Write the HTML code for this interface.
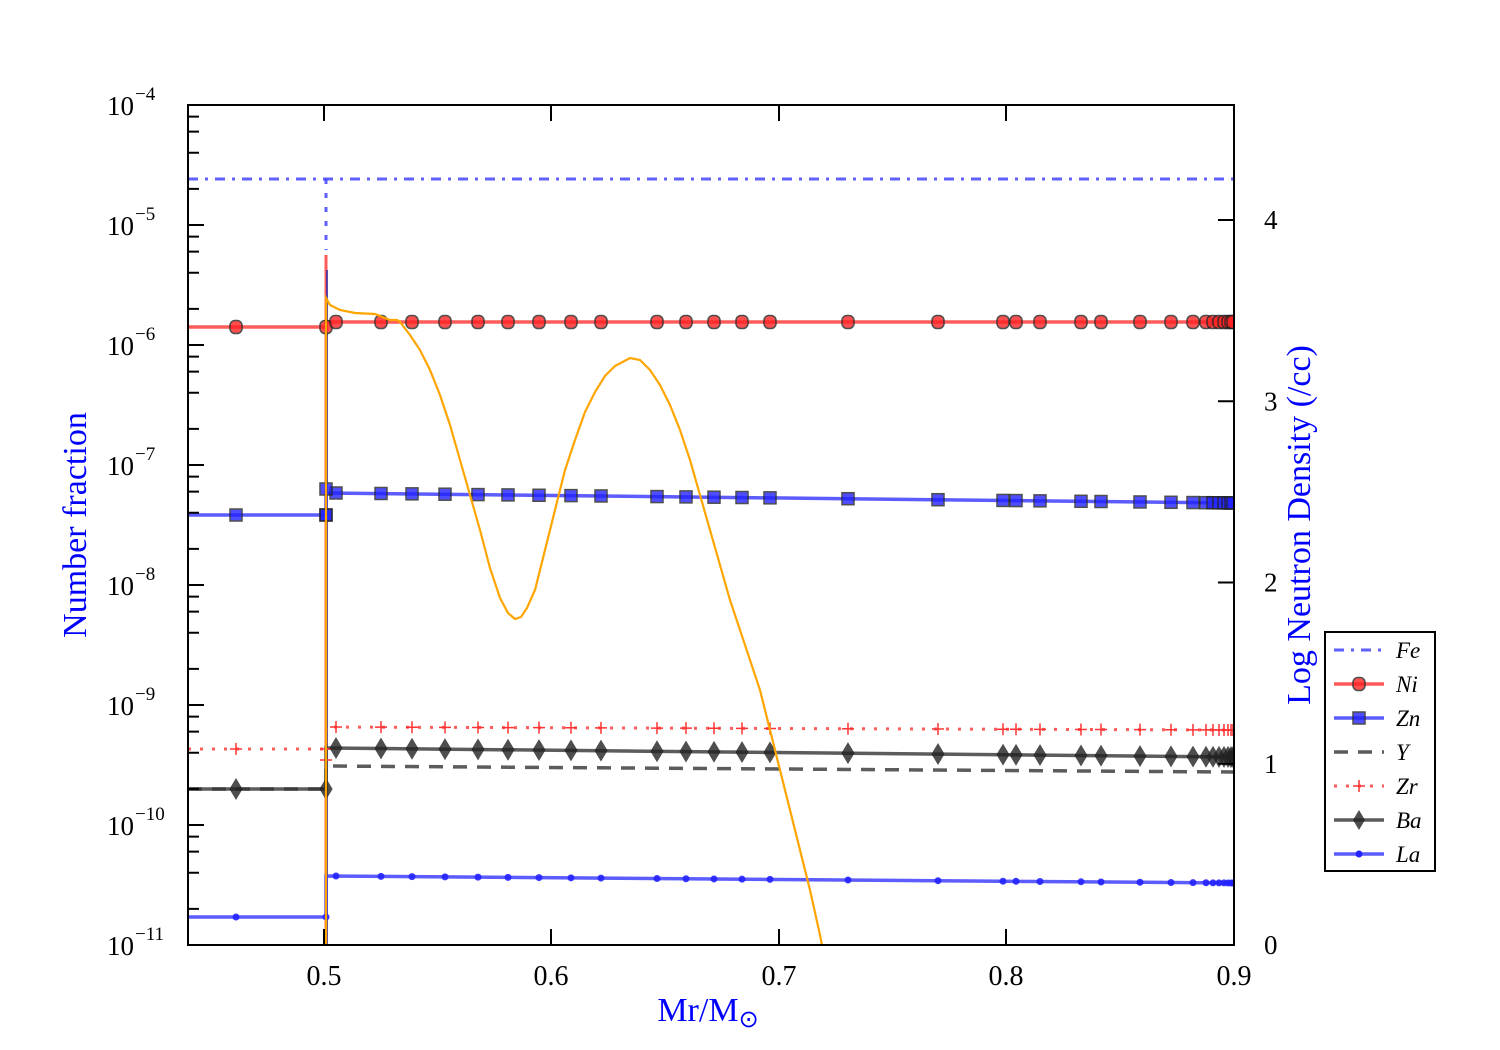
<!DOCTYPE html>
<html><head><meta charset="utf-8">
<style>
html,body{margin:0;padding:0;background:#fff;}
svg{display:block;}
text{font-family:"Liberation Serif",serif;}
</style></head>
<body>
<svg id="s" width="1500" height="1050" xmlns="http://www.w3.org/2000/svg"></svg>
<script>
const S=document.getElementById('s');
let h='';
const X0=188,X1=1234,Y0=105,Y1=945;
const xs=[236,326,336,381,412,445,478,508,539,571,601,657,686,714,742,770,848,938,1003,1016,1040,1081,1101,1140,1171,1193,1206,1213,1219,1224,1228,1231,1233];
function yv(a,b,x){ if(x<=326) return a; return b[0]+(b[1]-b[0])*(x-336)/(1234-336);}
const ser={
 Ni:[327,[322,322]], Zn:[515,[493,503]], Zr:[749,[727,730]], Ba:[789,[748,757]], Y:[789,[766,772]], La:[917,[876,883]]
};
function line(name,col,w,dash,op){
 const s=ser[name];
 let d=`M188,${s[0]} L326,${s[0]} L326,${s[1][0]} L1234,${s[1][1]}`;
 h+=`<path d="${d}" fill="none" stroke="${col}" stroke-width="${w}" ${dash?`stroke-dasharray="${dash}"`:''} opacity="${op}"/>`;
}
h+=`<rect x="0" y="0" width="1500" height="1050" fill="#fff"/>`;
h+=`<clipPath id="c"><rect x="${X0}" y="${Y0}" width="${X1-X0}" height="${Y1-Y0}"/></clipPath><g clip-path="url(#c)">`;
h+=`<path d="M188,179 L1234,179" stroke="#4444ff" stroke-width="3" stroke-dasharray="10,7,3,7" opacity="0.85" fill="none"/>`;
h+=`<path d="M326,179 L326,250" stroke="#4444ff" stroke-width="3" stroke-dasharray="5,9" opacity="0.85"/>`;
h+=`<path d="M326,255 L326,945" stroke="#ff3333" stroke-width="3" opacity="0.8"/>`;
h+=`<path d="M327,270 L327,945" stroke="#3333aa" stroke-width="2" opacity="0.8"/>`;
line('Ni','#ff3333',3.5,null,0.8);
line('Zn','#3333ff',3.5,null,0.8);
line('Y','#333',3.5,'14,10',0.8);
line('Zr','#ff3333',3,'3,9',0.8);
line('Ba','#333',3.5,null,0.8);
line('La','#3333ff',3.5,null,0.8);
for(const x of xs){
 let y=yv(327,ser.Ni[1],x); h+=`<rect x="${x-6}" y="${y-6.5}" width="12" height="13" rx="5" fill="#ff2222" stroke="#222" stroke-width="1.5" opacity="0.8"/>`;
 y=yv(515,ser.Zn[1],x); h+=`<rect x="${x-6}" y="${y-6}" width="12" height="12" fill="#2222ff" stroke="#222" stroke-width="1.5" opacity="0.8"/>`;
 y=yv(749,ser.Zr[1],x); h+=`<path d="M${x-6},${y}h12M${x},${y-6}v12" stroke="#ff3333" stroke-width="1.5"/>`;
 y=yv(789,ser.Ba[1],x); h+=`<path d="M${x},${y-10}L${x+6},${y}L${x},${y+10}L${x-6},${y}Z" fill="#222" stroke="#222" stroke-width="1" opacity="0.8"/>`;
 y=yv(917,ser.La[1],x); h+=`<circle cx="${x}" cy="${y}" r="3.5" fill="#2222ff" opacity="0.9"/>`;
}
h+=`<rect x="320" y="483" width="12" height="12" fill="#2222ff" stroke="#222" stroke-width="1.5" opacity="0.8"/>`;
h+=`<rect x="320" y="509" width="12" height="12" fill="#2222ff" stroke="#222" stroke-width="1.5" opacity="0.8"/>`;
h+=`<path d="M320,760h12" stroke="#ff3333" stroke-width="1.5"/>`;
const o=[[326,945],[326,298],[330,305],[340,310],[355,313],[375,314],[385,318],[390,320],[397,320],[400,322],[410,335],[420,350],[430,370],[440,395],[450,425],[460,460],[470,495],[480,530],[490,568],[500,598],[508,613],[515,619],[521,617],[527,608],[535,590],[545,550],[555,510],[565,470],[575,440],[585,412],[595,392],[605,376],[615,366],[630,358],[640,360],[650,370],[660,385],[670,405],[680,430],[690,460],[700,495],[710,530],[720,565],[730,600],[740,630],[750,660],[760,690],[770,730],[780,770],[790,810],[800,850],[810,890],[820,935],[822,945]];
h+=`<polyline points="${o.map(p=>p.join(',')).join(' ')}" fill="none" stroke="#ffa500" stroke-width="2.2"/>`;
h+=`</g>`;
h+=`<rect x="${X0}" y="${Y0}" width="${X1-X0}" height="${Y1-Y0}" fill="none" stroke="#000" stroke-width="2"/>`;
const xt=[[0.5,324],[0.6,551],[0.7,779],[0.8,1006],[0.9,1234]];
for(const [v,x] of xt){
 h+=`<path d="M${x},${Y1}v-16M${x},${Y0}v16" stroke="#000" stroke-width="2"/>`;
 h+=`<text x="${x}" y="985" font-size="28" text-anchor="middle">${v}</text>`;
}
for(let e=-4;e>=-11;e--){
 const y=Y0+(-4-e)*120;
 h+=`<path d="M${X0},${y}h16" stroke="#000" stroke-width="2"/>`;
 h+=`<text x="134" y="${y+10}" font-size="27" text-anchor="end">10</text><text x="135" y="${y-5}" font-size="19">−${-e}</text>`;
 if(e>-11) for(const k of [2,4,6,8]){ const ym=y+120-120*Math.log10(k); h+=`<path d="M${X0},${ym}h11" stroke="#000" stroke-width="2"/>`; }
}
for(let v=0;v<=4;v++){
 const y=945-v*181.25;
 h+=`<path d="M${X1},${y}h-16" stroke="#000" stroke-width="2"/>`;
 h+=`<text x="1264" y="${y+9}" font-size="27">${v}</text>`;
}
h+=`<text x="708" y="1021" font-size="34" fill="#0000ff" text-anchor="middle">Mr/M<tspan font-size="24" dy="6">⊙</tspan></text>`;
h+=`<text transform="translate(86,525) rotate(-90)" font-size="34" fill="#0000ff" text-anchor="middle">Number fraction</text>`;
h+=`<text transform="translate(1310,525) rotate(-90)" font-size="34" fill="#0000ff" text-anchor="middle">Log Neutron Density (/cc)</text>`;
h+=`<rect x="1325" y="632" width="110" height="239" fill="#fff" stroke="#000" stroke-width="2"/>`;
const L=[['Fe',650],['Ni',684],['Zn',718],['Y',752],['Zr',786],['Ba',820],['La',854]];
for(const [n,y] of L){
 h+=`<text x="1396" y="${y+8}" font-size="23" font-style="italic">${n}</text>`;
}
h+=`<path d="M1334,650h50" stroke="#4444ff" stroke-width="3" stroke-dasharray="10,7,3,7" opacity="0.85"/>`;
h+=`<path d="M1334,684h50" stroke="#ff3333" stroke-width="3.5" opacity="0.8"/><rect x="1353" y="677.5" width="12" height="13" rx="5" fill="#ff2222" stroke="#222" stroke-width="1.5" opacity="0.8"/>`;
h+=`<path d="M1334,718h50" stroke="#3333ff" stroke-width="3.5" opacity="0.8"/><rect x="1353" y="712" width="12" height="12" fill="#2222ff" stroke="#222" stroke-width="1.5" opacity="0.8"/>`;
h+=`<path d="M1334,752h50" stroke="#333" stroke-width="3.5" stroke-dasharray="14,10" opacity="0.8"/>`;
h+=`<path d="M1334,786h50" stroke="#ff3333" stroke-width="3" stroke-dasharray="3,9" opacity="0.8"/><path d="M1353,786h12M1359,780v12" stroke="#ff3333" stroke-width="1.5"/>`;
h+=`<path d="M1334,820h50" stroke="#333" stroke-width="3.5" opacity="0.8"/><path d="M1359,810L1365,820L1359,830L1353,820Z" fill="#222" opacity="0.8"/>`;
h+=`<path d="M1334,854h50" stroke="#3333ff" stroke-width="3.5" opacity="0.8"/><circle cx="1359" cy="854" r="3.5" fill="#2222ff"/>`;
S.innerHTML=h;
</script>
</body></html>
